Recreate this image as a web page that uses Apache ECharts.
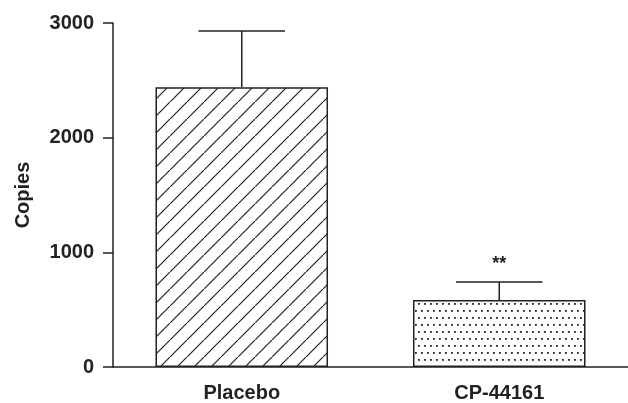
<!DOCTYPE html>
<html>
<head>
    <meta charset="UTF-8">
    <title>Copies</title>
    <script src="https://cdn.jsdelivr.net/npm/echarts@6/dist/echarts.min.js"></script>
    <style>
        html, body { margin: 0; padding: 0; background: #fff; }
        #chart { width: 628px; height: 403px; }
    </style>
</head>
<body>
<div id="chart"></div>
<script>
    // data
    const categories = ['Placebo', 'CP-44161'];
    const means = [2440, 585];
    const errTop = [2930, 742];        // mean + SEM
    const sigLabels = ['', '**'];
    const yTicks = [0, 1000, 2000, 3000];

    const font = '"Liberation Sans", Arial, sans-serif';
    const ink = '#222';

    // diagonal hatch for placebo
    function hatchPattern() {
        const c = document.createElement('canvas');
        c.width = 17; c.height = 17;
        const g = c.getContext('2d');
        g.fillStyle = '#fff';
        g.fillRect(0, 0, 17, 17);
        g.strokeStyle = ink;
        g.lineWidth = 1.2;
        g.beginPath();
        g.moveTo(-2, 19); g.lineTo(19, -2);
        g.stroke();
        return c;
    }

    // staggered dots for treatment
    function dotPattern() {
        const c = document.createElement('canvas');
        c.width = 12; c.height = 14;
        const g = c.getContext('2d');
        g.fillStyle = '#fff';
        g.fillRect(0, 0, 12, 14);
        g.fillStyle = ink;
        [[1, 2], [7, 2], [4, 9], [10, 9]].forEach(p => g.fillRect(p[0], p[1], 1.8, 1.8));
        return c;
    }

    const fills = [
        {image: hatchPattern(), repeat: 'repeat'},
        {image: dotPattern(), repeat: 'repeat'}
    ];

    const chart = echarts.init(document.getElementById('chart'));

    const option = {
        animation: false,
        grid: {left: 113, top: 23, width: 518, height: 345},
        xAxis: {
            type: 'category',
            data: categories,
            axisLine: {lineStyle: {color: ink, width: 1.5}},
            axisTick: {alignWithLabel: true, length: 9, lineStyle: {color: ink, width: 1.5}},
            axisLabel: {fontFamily: font, fontWeight: 'bold', fontSize: 20, color: ink, margin: 16}
        },
        yAxis: {
            type: 'value',
            min: yTicks[0],
            max: yTicks[yTicks.length - 1],
            interval: 1000,
            name: 'Copies',
            nameLocation: 'middle',
            nameRotate: 90,
            nameGap: 80,
            nameTextStyle: {fontFamily: font, fontWeight: 'bold', fontSize: 20, color: ink},
            axisLine: {show: true, lineStyle: {color: ink, width: 1.5}},
            axisTick: {show: true, length: 10, lineStyle: {color: ink, width: 1.5}},
            axisLabel: {
                fontFamily: font, fontWeight: 'bold', fontSize: 20, color: ink, margin: 19,
                formatter: v => String(v)
            },
            splitLine: {show: false}
        },
        series: [
            {
                type: 'bar',
                barWidth: '67%',
                data: means.map((v, i) => ({
                    value: v,
                    itemStyle: {color: fills[i], borderColor: ink, borderWidth: 1.5}
                }))
            },
            {
                type: 'custom',
                data: means.map((v, i) => [i, v, errTop[i]]),
                renderItem(params, api) {
                    const i = api.value(0);
                    const base = api.coord([i, api.value(1)]);
                    const top = api.coord([i, api.value(2)]);
                    const half = api.size([1, 0])[0] * 0.168;
                    const style = {stroke: ink, lineWidth: 1.5};
                    const kids = [
                        {type: 'line', shape: {x1: base[0], y1: base[1], x2: top[0], y2: top[1]}, style},
                        {type: 'line', shape: {x1: top[0] - half, y1: top[1], x2: top[0] + half, y2: top[1]}, style}
                    ];
                    if (sigLabels[i]) {
                        kids.push({
                            type: 'text',
                            x: top[0], y: top[1] - 9,
                            style: {
                                text: sigLabels[i], fill: ink, align: 'center', verticalAlign: 'bottom',
                                font: 'bold 18px ' + font
                            }
                        });
                    }
                    return {type: 'group', children: kids};
                },
                z: 3
            }
        ]
    };

    chart.setOption(option);
</script>
</body>
</html>
